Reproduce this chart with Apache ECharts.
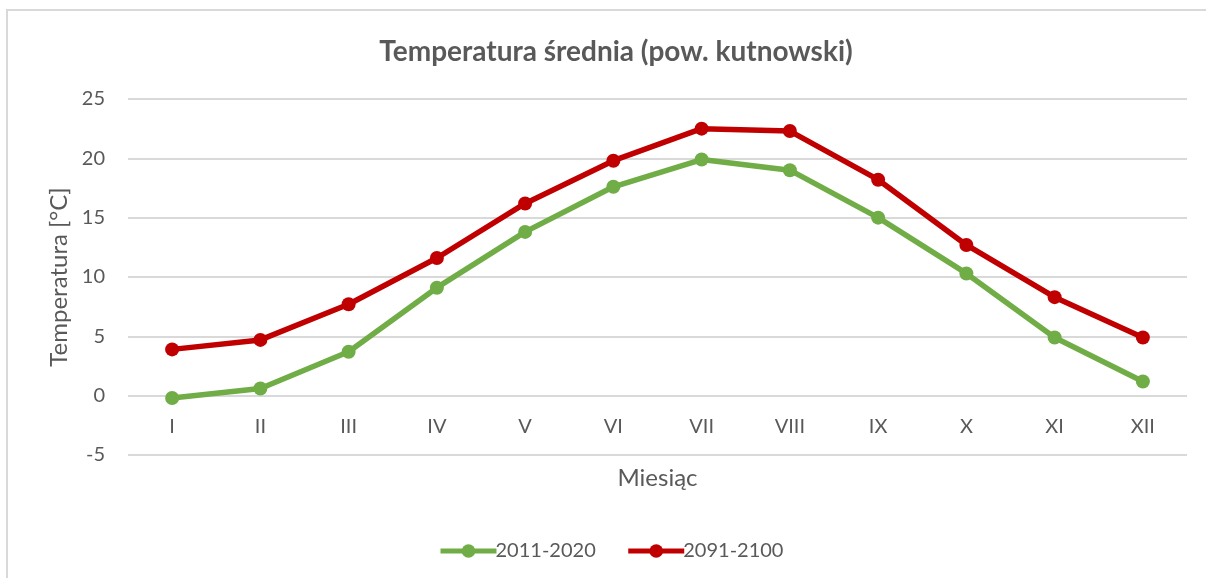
<!DOCTYPE html>
<html>
<head>
<meta charset="utf-8">
<script src="https://cdn.jsdelivr.net/npm/echarts@6/dist/echarts.min.js"></script>
<style>
html,body{margin:0;padding:0;background:#fff;}
#chart{width:1206px;height:578px;}
</style>
</head>
<body>
<div id="chart"></div>
<script>
const categories = ['I','II','III','IV','V','VI','VII','VIII','IX','X','XI','XII'];
const series2011 = [-0.2, 0.6, 3.7, 9.1, 13.8, 17.6, 19.9, 19.0, 15.0, 10.3, 4.9, 1.2];
const series2091 = [3.9, 4.7, 7.7, 11.6, 16.2, 19.8, 22.5, 22.3, 18.2, 12.7, 8.3, 4.9];
const seriesNames = ['2011-2020', '2091-2100'];
const yTicks = {min: -5, max: 25, interval: 5};

const FONT = 'Lato, "Open Sans", sans-serif';
const TXT = '#595959';
const chart = echarts.init(document.getElementById('chart'), null, {renderer: 'canvas'});
chart.setOption({
  backgroundColor: '#fff',
  animation: false,
  graphic: [{
    type: 'rect',
    shape: {x: 7, y: 10, width: 1400, height: 800},
    style: {fill: 'none', stroke: '#d9d9d9', lineWidth: 2},
    silent: true, z: -1
  }],
  title: {
    text: 'Temperatura średnia (pow. kutnowski)',
    left: 611, top: 33, textAlign: 'center',
    textStyle: {fontFamily: FONT, fontSize: 28, fontWeight: 'bold', color: TXT}
  },
  legend: {
    data: seriesNames,
    left: 433, top: 536,
    itemWidth: 56, itemHeight: 17, itemGap: 30,
    lineStyle: {width: 5},
    textStyle: {fontFamily: FONT, fontSize: 20, color: TXT, padding: [0,0,0,-6]}
  },
  grid: {left: 128, right: 19, top: 99, bottom: 123, containLabel: false},
  xAxis: {
    type: 'category',
    data: categories,
    boundaryGap: true,
    name: 'Miesiąc',
    nameLocation: 'middle',
    nameGap: 11,
    nameTextStyle: {fontFamily: FONT, fontSize: 24, color: TXT},
    axisLine: {show: false, onZero: false},
    axisTick: {show: false},
    axisLabel: {fontFamily: FONT, fontSize: 20, color: TXT, margin: -38}
  },
  yAxis: {
    type: 'value',
    min: yTicks.min, max: yTicks.max, interval: yTicks.interval,
    name: 'Temperatura [°C]',
    nameLocation: 'middle',
    nameGap: 56,
    nameTextStyle: {fontFamily: FONT, fontSize: 24, color: TXT},
    axisLine: {show: false},
    axisTick: {show: false},
    axisLabel: {fontFamily: FONT, fontSize: 20, color: TXT, margin: 23},
    splitLine: {show: true, lineStyle: {color: '#d9d9d9', width: 2}}
  },
  series: [
    {
      name: seriesNames[0], type: 'line', data: series2011,
      symbol: 'circle', symbolSize: 14,
      lineStyle: {color: '#70ad47', width: 5.5},
      itemStyle: {color: '#70ad47'}
    },
    {
      name: seriesNames[1], type: 'line', data: series2091,
      symbol: 'circle', symbolSize: 14,
      lineStyle: {color: '#c00000', width: 5.5},
      itemStyle: {color: '#c00000'}
    }
  ]
});
</script>
</body>
</html>
